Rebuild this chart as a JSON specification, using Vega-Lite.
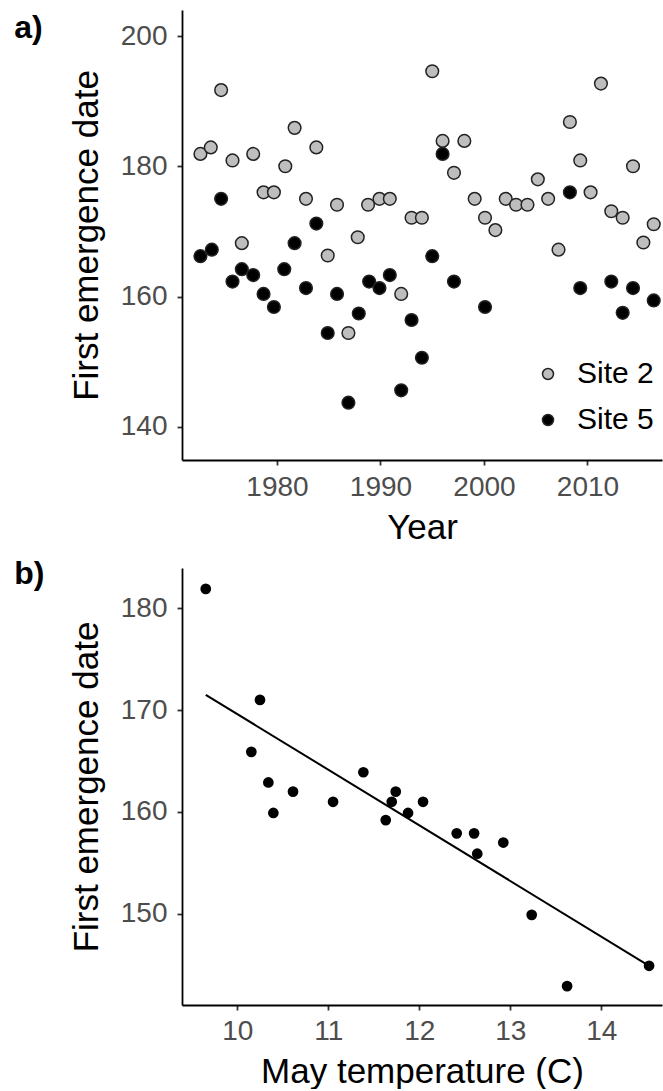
{
  "$schema": "https://vega.github.io/schema/vega-lite/v6.json",
  "background": "white",
  "padding": {"left": 14, "top": 10, "right": 0, "bottom": 0},
  "spacing": 13,
  "config": {
    "view": {"stroke": null},
    "font": "Liberation Sans",
    "axis": {
      "grid": false,
      "domainColor": "#000000",
      "domainWidth": 1.8,
      "tickColor": "#333333",
      "tickWidth": 1.8,
      "tickSize": 5,
      "labelColor": "#4D4D4D",
      "labelFont": "Liberation Sans",
      "labelFontSize": 28,
      "titleFont": "Liberation Sans",
      "titleFontSize": 35,
      "titleFontWeight": "normal",
      "titleColor": "#000000"
    },
    "axisX": {"labelPadding": 8, "titlePadding": 9},
    "axisY": {"labelPadding": 10, "titlePadding": 16},
    "title": {"font": "Liberation Sans", "fontSize": 32, "fontWeight": "bold", "anchor": "start", "frame": "bounds", "color": "#000000", "baseline": "top", "offset": 0}
  },
  "resolve": {"scale": {"fill": "independent"}, "legend": {"fill": "independent"}},
  "vconcat": [
    {
      "title": {"text": "a)", "dx": -55, "dy": 39},
      "width": 480,
      "height": 450,
      "data": {"values": [
        {"year": 1972.6, "date": 181.9, "site": "Site 2"},
        {"year": 1973.6, "date": 182.9, "site": "Site 2"},
        {"year": 1974.6, "date": 191.7, "site": "Site 2"},
        {"year": 1975.7, "date": 180.9, "site": "Site 2"},
        {"year": 1976.6, "date": 168.2, "site": "Site 2"},
        {"year": 1977.7, "date": 181.9, "site": "Site 2"},
        {"year": 1978.7, "date": 176.0, "site": "Site 2"},
        {"year": 1979.7, "date": 176.0, "site": "Site 2"},
        {"year": 1980.8, "date": 180.0, "site": "Site 2"},
        {"year": 1981.7, "date": 185.9, "site": "Site 2"},
        {"year": 1982.8, "date": 175.0, "site": "Site 2"},
        {"year": 1983.8, "date": 182.9, "site": "Site 2"},
        {"year": 1984.9, "date": 166.3, "site": "Site 2"},
        {"year": 1985.8, "date": 174.1, "site": "Site 2"},
        {"year": 1986.9, "date": 154.4, "site": "Site 2"},
        {"year": 1987.8, "date": 169.1, "site": "Site 2"},
        {"year": 1988.8, "date": 174.1, "site": "Site 2"},
        {"year": 1989.9, "date": 175.0, "site": "Site 2"},
        {"year": 1990.9, "date": 175.0, "site": "Site 2"},
        {"year": 1992.0, "date": 160.4, "site": "Site 2"},
        {"year": 1993.0, "date": 172.1, "site": "Site 2"},
        {"year": 1994.0, "date": 172.1, "site": "Site 2"},
        {"year": 1995.0, "date": 194.6, "site": "Site 2"},
        {"year": 1996.0, "date": 183.9, "site": "Site 2"},
        {"year": 1997.1, "date": 179.0, "site": "Site 2"},
        {"year": 1998.1, "date": 183.9, "site": "Site 2"},
        {"year": 1999.1, "date": 175.0, "site": "Site 2"},
        {"year": 2000.1, "date": 172.1, "site": "Site 2"},
        {"year": 2001.1, "date": 170.2, "site": "Site 2"},
        {"year": 2002.1, "date": 175.0, "site": "Site 2"},
        {"year": 2003.1, "date": 174.1, "site": "Site 2"},
        {"year": 2004.2, "date": 174.1, "site": "Site 2"},
        {"year": 2005.2, "date": 178.0, "site": "Site 2"},
        {"year": 2006.2, "date": 175.0, "site": "Site 2"},
        {"year": 2007.2, "date": 167.2, "site": "Site 2"},
        {"year": 2008.3, "date": 186.8, "site": "Site 2"},
        {"year": 2009.3, "date": 180.9, "site": "Site 2"},
        {"year": 2010.3, "date": 176.0, "site": "Site 2"},
        {"year": 2011.3, "date": 192.7, "site": "Site 2"},
        {"year": 2012.3, "date": 173.1, "site": "Site 2"},
        {"year": 2013.4, "date": 172.1, "site": "Site 2"},
        {"year": 2014.4, "date": 180.0, "site": "Site 2"},
        {"year": 2015.4, "date": 168.3, "site": "Site 2"},
        {"year": 2016.4, "date": 171.1, "site": "Site 2"},
        {"year": 1972.6, "date": 166.2, "site": "Site 5"},
        {"year": 1973.7, "date": 167.2, "site": "Site 5"},
        {"year": 1974.6, "date": 175.0, "site": "Site 5"},
        {"year": 1975.7, "date": 162.3, "site": "Site 5"},
        {"year": 1976.6, "date": 164.2, "site": "Site 5"},
        {"year": 1977.7, "date": 163.3, "site": "Site 5"},
        {"year": 1978.7, "date": 160.4, "site": "Site 5"},
        {"year": 1979.7, "date": 158.4, "site": "Site 5"},
        {"year": 1980.7, "date": 164.2, "site": "Site 5"},
        {"year": 1981.7, "date": 168.2, "site": "Site 5"},
        {"year": 1982.8, "date": 161.3, "site": "Site 5"},
        {"year": 1983.8, "date": 171.2, "site": "Site 5"},
        {"year": 1984.9, "date": 154.4, "site": "Site 5"},
        {"year": 1985.8, "date": 160.4, "site": "Site 5"},
        {"year": 1986.9, "date": 143.7, "site": "Site 5"},
        {"year": 1987.9, "date": 157.4, "site": "Site 5"},
        {"year": 1988.9, "date": 162.3, "site": "Site 5"},
        {"year": 1989.9, "date": 161.3, "site": "Site 5"},
        {"year": 1990.9, "date": 163.3, "site": "Site 5"},
        {"year": 1992.0, "date": 145.6, "site": "Site 5"},
        {"year": 1993.0, "date": 156.4, "site": "Site 5"},
        {"year": 1994.0, "date": 150.6, "site": "Site 5"},
        {"year": 1995.0, "date": 166.2, "site": "Site 5"},
        {"year": 1996.0, "date": 181.9, "site": "Site 5"},
        {"year": 1997.1, "date": 162.3, "site": "Site 5"},
        {"year": 2000.1, "date": 158.4, "site": "Site 5"},
        {"year": 2008.3, "date": 176.0, "site": "Site 5"},
        {"year": 2009.3, "date": 161.3, "site": "Site 5"},
        {"year": 2012.3, "date": 162.3, "site": "Site 5"},
        {"year": 2013.4, "date": 157.5, "site": "Site 5"},
        {"year": 2014.4, "date": 161.3, "site": "Site 5"},
        {"year": 2016.4, "date": 159.4, "site": "Site 5"}
      ]},
      "mark": {"type": "circle", "size": 160, "stroke": "#222222", "strokeWidth": 1.5, "opacity": 1},
      "encoding": {
        "x": {"field": "year", "type": "quantitative",
              "scale": {"domain": [1970.82, 2017.2], "nice": false, "zero": false},
              "axis": {"values": [1980, 1990, 2000, 2010], "format": "d", "title": "Year"}},
        "y": {"field": "date", "type": "quantitative",
              "scale": {"domain": [134.9, 204], "nice": false, "zero": false},
              "axis": {"values": [140, 160, 180, 200], "title": "First emergence date"}},
        "fill": {"field": "site", "type": "nominal",
                 "scale": {"domain": ["Site 2", "Site 5"], "range": ["#BEBEBE", "#000000"]},
                 "legend": {"title": null, "orient": "none", "legendX": 351, "legendY": 349,
                            "labelFontSize": 30, "labelColor": "#000000", "labelFont": "Liberation Sans",
                            "symbolType": "circle", "symbolSize": 120, "symbolStrokeColor": "#222222", "symbolStrokeWidth": 1.5,
                            "labelOffset": 14, "rowPadding": 16, "padding": 0}}
      }
    },
    {
      "title": {"text": "b)", "dx": -55, "dy": 27},
      "width": 480,
      "height": 437,
      "encoding": {
        "x": {"field": "temp", "type": "quantitative",
              "scale": {"domain": [9.392, 14.667], "nice": false, "zero": false},
              "axis": {"values": [10, 11, 12, 13, 14], "title": "May temperature (C)", "labelPadding": 7}},
        "y": {"field": "date", "type": "quantitative",
              "scale": {"domain": [141.05, 183.95], "nice": false, "zero": false},
              "axis": {"values": [150, 160, 170, 180], "title": "First emergence date"}}
      },
      "layer": [
        {
          "data": {"values": [
            {"temp": 9.653, "date": 181.9},
            {"temp": 10.249, "date": 171.0},
            {"temp": 10.154, "date": 165.9},
            {"temp": 10.341, "date": 162.9},
            {"temp": 10.612, "date": 162.0},
            {"temp": 10.396, "date": 159.9},
            {"temp": 11.052, "date": 161.0},
            {"temp": 11.385, "date": 163.9},
            {"temp": 11.741, "date": 162.0},
            {"temp": 11.697, "date": 161.0},
            {"temp": 11.876, "date": 159.9},
            {"temp": 11.631, "date": 159.2},
            {"temp": 12.041, "date": 161.0},
            {"temp": 12.411, "date": 157.9},
            {"temp": 12.602, "date": 157.9},
            {"temp": 12.637, "date": 155.9},
            {"temp": 12.923, "date": 157.0},
            {"temp": 13.235, "date": 149.9},
            {"temp": 14.525, "date": 144.9},
            {"temp": 13.624, "date": 142.9}
          ]},
          "mark": {"type": "circle", "size": 115, "color": "#000000", "opacity": 1}
        },
        {
          "data": {"values": [
            {"temp": 9.653, "date": 171.5},
            {"temp": 14.525, "date": 144.9}
          ]},
          "mark": {"type": "line", "color": "#000000", "strokeWidth": 2}
        }
      ]
    }
  ]
}
